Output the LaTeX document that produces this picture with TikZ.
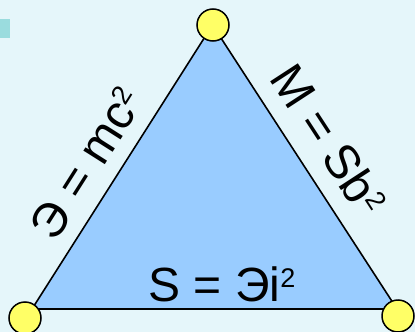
\documentclass[tikz,border=0pt]{standalone}
\usepackage{fontspec}
\setmainfont{Liberation Sans}
\definecolor{bgc}{HTML}{E5F6FA}
\definecolor{teal}{HTML}{9ADCDE}
\definecolor{trif}{HTML}{99CCFF}
\definecolor{dotf}{HTML}{FFFF66}
\newcommand{\sq}{\raisebox{14pt}{\fontsize{27}{27}\selectfont 2}}
\tikzset{
  dot/.style={circle,draw=black,line width=1.5pt,fill=dotf,minimum size=32pt,inner sep=0pt},
  lbl/.style={inner sep=0pt,anchor=base,font=\fontsize{48}{48}\selectfont},
}
\begin{document}
\begin{tikzpicture}[x=1pt,y=-1pt]
\useasboundingbox (0,0) rectangle (415,332);
\fill[bgc] (0,0) rectangle (415,332);
\fill[teal] (0,19) rectangle (10,38);
\coordinate (A) at (212.5,25);
\coordinate (B) at (32,309);
\coordinate (C) at (397,309);
\draw[line width=1.6pt,fill=trif,line join=round] (A) -- (B) -- (C) -- cycle;
\node[dot] (top) at (213,25) {};
\node[dot] (bl) at (25,318) {};
\node[dot] (br) at (398,316) {};
\node[lbl,rotate=57.6] (left) at (100.5,172) {Э = mc\sq};
\node[lbl,rotate=-56.9] (right) at (314.5,149) {M = Sb\sq};
\node[lbl] (bottom) at (222,301) {S = Эi\sq};
\end{tikzpicture}
\end{document}
